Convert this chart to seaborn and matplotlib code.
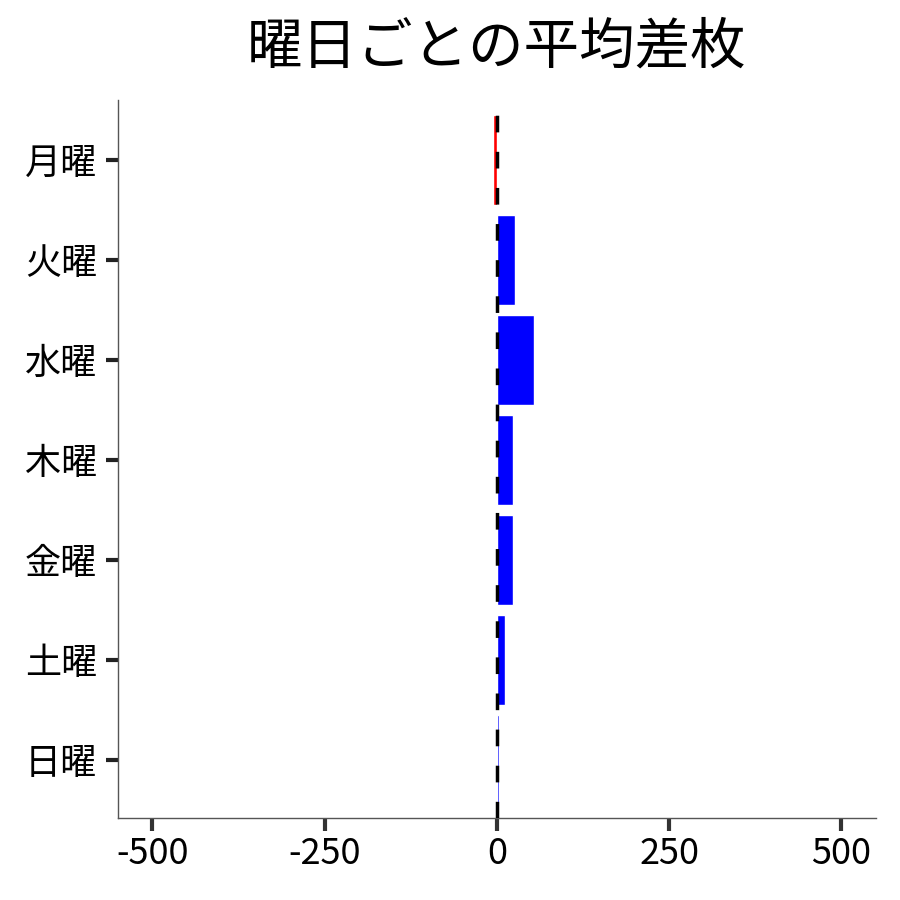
import numpy as np
import pandas as pd
import seaborn as sns
import matplotlib.pyplot as plt

# 曜日ごとの平均差枚
days = ['月曜', '火曜', '水曜', '木曜', '金曜', '土曜', '日曜']
avg_diff = [-5, 27, 54, 23, 23, 12, 3]

df = pd.DataFrame({'day': days, 'diff': avg_diff})
df['sign'] = np.where(df['diff'] < 0, 'neg', 'pos')

sns.set_style("white")
plt.rcParams['font.family'] = ['Noto Sans CJK JP', 'DejaVu Sans']

fig = plt.figure(figsize=(9, 9), dpi=100)
ax = fig.add_axes([0.131, 0.091, 0.842, 0.798])

sns.barplot(data=df, x='diff', y='day', hue='sign', order=days,
            palette={'neg': 'red', 'pos': 'blue'}, width=0.9,
            dodge=False, legend=False, saturation=1, ax=ax)

# 0のライン
ax.axvline(0, color='black', lw=2.5, linestyle=(0, (4.8, 5.6)), zorder=5)

ax.set_xlim(-550, 550)
ax.set_ylim(6.58, -0.6)
ax.set_xticks([-500, -250, 0, 250, 500])
ax.set_xticklabels(['-500', '-250', '0', '250', '500'])
ax.set_xlabel('')
ax.set_ylabel('')
ax.set_title('曜日ごとの平均差枚', fontsize=40, pad=26, color='black')

for s in ['top', 'right']:
    ax.spines[s].set_visible(False)
for s in ['left', 'bottom']:
    ax.spines[s].set_color('#555555')
    ax.spines[s].set_linewidth(1)

ax.tick_params(axis='y', left=True, length=9, width=3, color='#222222',
               labelsize=26, labelcolor='black', pad=6)
ax.tick_params(axis='x', bottom=True, length=9, width=3, color='#333333',
               labelsize=26, labelcolor='black', pad=4)

fig.savefig('out.png', dpi=100)
